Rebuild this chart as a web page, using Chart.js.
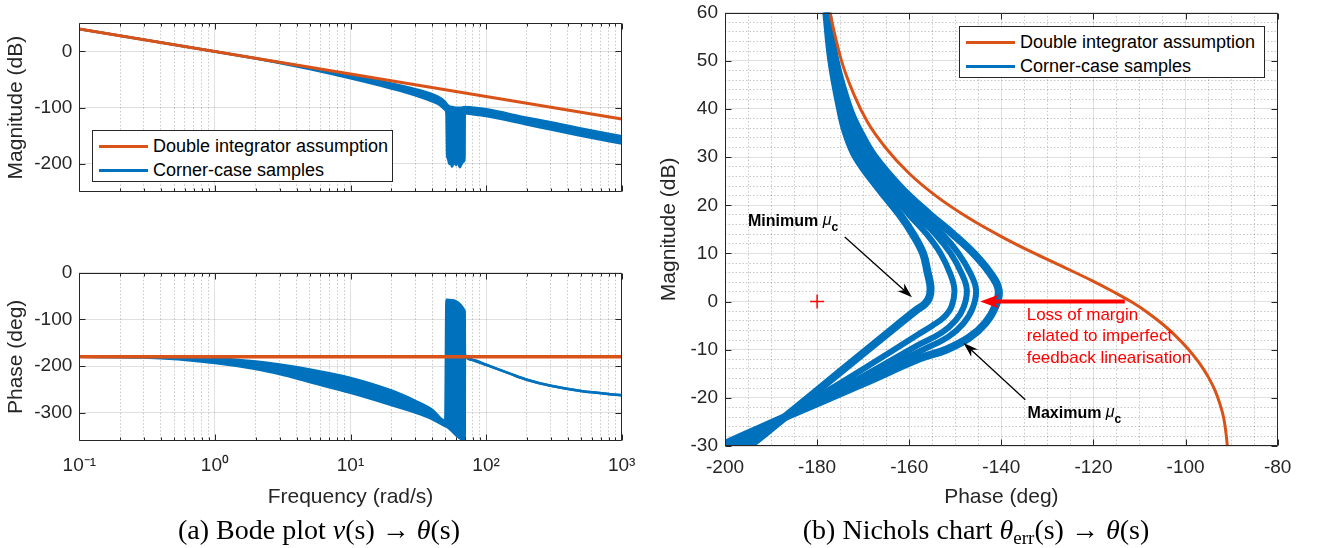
<!DOCTYPE html>
<html>
<head>
<meta charset="utf-8">
<script src="https://cdn.jsdelivr.net/npm/chart.js@4.4.0/dist/chart.umd.min.js"></script>
<style>
  body { margin: 0; background: #fff; width: 1321px; height: 548px; position: relative; overflow: hidden;
         font-family: "Liberation Sans", Arial, Helvetica, sans-serif; }
  canvas { position: absolute; left: 0; top: 0; }
  .legend { position: absolute; background: #fff; border: 1px solid #262626; box-sizing: border-box; font-size: 18px; color: #000; }
  .legend .row { position: absolute; left: 0; height: 24px; line-height: 24px; white-space: nowrap; }
  .legend .ln { position: absolute; height: 3px; top: 11px; }
  .legend .tx { position: absolute; }
  .caption { position: absolute; font-family: "Liberation Serif", "Times New Roman", serif; font-size: 28px; color: #000;
             transform: translate(-50%, -50%); white-space: nowrap; }
  .caption sub { font-size: 0.68em; vertical-align: -0.25em; line-height: 0; }
</style>
</head>
<body>
<canvas id="bodeMag" width="1321" height="548"></canvas>
<canvas id="bodePhase" width="1321" height="548"></canvas>
<canvas id="nichols" width="1321" height="548"></canvas>
<div id="legendBode" class="legend" style="left:92px;top:130px;width:301px;height:52px"></div>
<div id="legendNichols" class="legend" style="left:959px;top:26px;width:306px;height:52px"></div>
<div class="caption" style="left:319px;top:530px">(a) Bode plot <i>ν</i>(s) → <i>θ</i>(s)</div>
<div class="caption" style="left:976px;top:530px">(b) Nichols chart <i>θ</i><sub>err</sub>(s) → <i>θ</i>(s)</div>
<script>
// ---- series names ----
const seriesNames = ['Double integrator assumption', 'Corner-case samples'];

// ---- Bode: frequency ticks (rad/s) ----
const freqDecades = [0.1, 1, 10, 100, 1000];
const freqLabels = ['10⁻¹', '10⁰', '10¹', '10²', '10³'];
const magTicks = [-200, -100, 0];
const phaseTicks = [-300, -200, -100, 0];

// Bode magnitude (freq, dB)
const magDI = [[0.1, 40], [1, 0], [10, -40], [100, -80], [1000, -120]];
const magBandUpper = [[0.1, 40], [1, 0], [2, -12.3], [3, -19.4], [5, -28.8], [10, -41], [20, -57], [30, -67], [40, -76], [46, -83], [50, -90],
  [51, -93], [53, -97], [56, -99], [60, -100], [65, -100], [69.6, -99], [75, -99.5], [100, -103], [200, -118], [300, -126], [500, -137], [1000, -151]];
const magBandLower = [[0.1, 40], [1, 0], [2, -12.6], [3, -20.5], [5, -31.5], [10, -48], [20, -66], [30, -78], [40, -89], [46, -96], [50, -104],
  [51, -110], [51.6, -185], [52.5, -192], [53.5, -200], [55, -198], [56, -205], [58, -196], [60, -202], [62, -195], [64, -206], [66, -200],
  [68, -196], [69.3, -190], [69.6, -110], [75, -111], [100, -115], [200, -130], [300, -139], [500, -150], [1000, -164]];

// Bode phase (freq, deg)
const phaseDI = [[0.1, -180], [1000, -180]];
const phaseBandUpper = [[0.1, -180], [0.3, -180.5], [1, -183], [2, -190], [3, -196.5], [5, -207], [10, -225], [20, -252], [30, -274], [40, -293], [50, -317],
  [51, -58], [69.5, -82], [69.8, -177], [80, -187], [100, -197], [150, -216], [200, -229], [300, -242], [500, -253], [1000, -262]];
const phaseBandLower = [[0.1, -180], [0.3, -181.5], [1, -193], [2, -206], [3, -217], [5, -234], [10, -257], [20, -283], [30, -299], [40, -313], [50, -328],
  [51, -329], [69.5, -359], [69.8, -177], [80, -187], [100, -197], [150, -216], [200, -229], [300, -242], [500, -253], [1000, -262]];

// ---- Nichols (phase deg, magnitude dB) ----
const nicholsPhaseTicks = [-200, -180, -160, -140, -120, -100, -80];
const nicholsMagTicks = [-30, -20, -10, 0, 10, 20, 30, 40, 50, 60];
const nicholsDI = [[-177.8, 63], [-177.2, 60], [-174.7, 50], [-172, 43], [-169, 37.2], [-165, 31.8], [-160, 26.6], [-154, 21.8], [-147, 17.3],
  [-140, 13.5], [-133, 10.1], [-127, 7.4], [-120, 4.2], [-116, 2.2], [-111.5, -0.2], [-108.5, -2.1], [-105.5, -4.3], [-102.5, -6.8], [-99.5, -9.8],
  [-97, -12.8], [-95, -15.8], [-93.5, -18.7], [-92.5, -21.4], [-91.7, -24.3], [-91.2, -27.5], [-90.9, -30.5], [-90.8, -32]];
const nicholsMinMu = [[-178.3, 63], [-178.0, 60], [-176.9, 50], [-175.0, 40], [-173.7, 35], [-171.5, 30], [-166.6, 23.5], [-162.0, 18], [-159.2, 14],
  [-157.0, 10], [-156.0, 6], [-155.4, 3.2], [-155.6, 1.0], [-156.6, -0.5], [-158.5, -1.8], [-165, -6.8], [-175, -14.6], [-187, -24], [-195, -30.2], [-198, -32.5]];
const nicholsMu2 = [[-178.2, 63], [-177.9, 60], [-176.6, 50], [-174.5, 40], [-172.8, 35], [-170.3, 30], [-165, 23.5], [-160, 18], [-156.2, 14],
  [-153.2, 10], [-151.2, 6], [-150.2, 2.5], [-150.8, -1], [-152.5, -3.3], [-155, -5], [-158, -6.8], [-170, -14], [-187, -24], [-197.5, -30.5], [-200, -32.5]];
const nicholsMu3 = [[-178.1, 63], [-177.8, 60], [-176.4, 50], [-174.0, 40], [-172.2, 35], [-169.4, 30], [-164, 23.5], [-158.5, 18], [-154.3, 14],
  [-151, 10], [-148.7, 6], [-147.5, 2.5], [-148.2, -1.2], [-150, -4], [-153, -6.5], [-158, -9], [-170, -15.5], [-187, -24], [-198.5, -30.3], [-201, -32]];
const nicholsMu4 = [[-178.05, 63], [-177.75, 60], [-176.2, 50], [-173.6, 40], [-171.6, 35], [-168.6, 30], [-163, 23.5], [-157.3, 18], [-152.8, 14],
  [-149.3, 10], [-146.8, 6], [-145.5, 2.5], [-146.2, -1.3], [-148.2, -4.5], [-151.5, -7.3], [-157, -10], [-170, -16], [-187, -24], [-199.5, -30.2], [-202, -31.5]];
const nicholsMaxMu = [[-178, 63], [-177.7, 60], [-176.0, 50], [-173.0, 40], [-170.6, 35], [-167.5, 30], [-161.7, 23.5], [-155.5, 18], [-150.5, 14],
  [-146, 10], [-142.5, 6], [-140.6, 2.5], [-141.3, -1], [-143.5, -4.5], [-147, -7.5], [-152, -10], [-157.7, -11.8], [-170, -17], [-187, -24], [-201, -30], [-203, -30.8]];
const criticalPoint = [[-180, 0]];

// annotations (data coordinates)
const minLabelAt = [-195, 16.9];
const minArrow = [[-174, 13.4], [-159.4, 0.9]];
const maxLabelAt = [-134.3, -22.9];
const maxArrow = [[-134.8, -20.4], [-148.2, -8.6]];
const lossArrow = [[-113.2, 0], [-144.6, 0]];
const lossText = ['Loss of margin', 'related to imperfect', 'feedback linearisation'];
const lossTextAt = [-134.5, -2.85];

// ---- styling ----
const ORANGE = '#D95319';
const BLUE = '#0072BD';
const TXT = '#262626';
const FONT = '"Liberation Sans", Arial, Helvetica, sans-serif';
const GRID_MAJOR = 'rgba(0,0,0,0.12)';
const GRID_MINOR = 'rgba(0,0,0,0.22)';

const toXY = arr => arr.map(([x, y]) => ({ x, y }));

function logTicks() {
  const out = [];
  freqDecades.forEach((d, i) => {
    out.push({ value: d, major: true });
    if (i < freqDecades.length - 1) {
      for (let k = 2; k <= 9; k++) out.push({ value: +(d * k).toPrecision(6), major: false });
    }
  });
  return out;
}

function linTicks(min, max, step, majors) {
  const out = [];
  for (let v = min; v <= max + 1e-9; v += step) {
    const val = Math.round(v * 1000) / 1000;
    out.push({ value: val, major: majors.includes(val) });
  }
  return out;
}

const gridOpts = {
  drawTicks: false,
  lineWidth: 1,
  color: c => (c.tick && c.tick.major ? GRID_MAJOR : GRID_MINOR)
};
const borderOpts = {
  display: false,
  dash: c => (c.tick && c.tick.major ? [] : [1.5, 2])
};

// axes box + inward tick marks, like the original plots
const framePlugin = {
  id: 'frame',
  afterDatasetsDraw(chart, args, opts) {
    const { ctx, chartArea: a, scales } = chart;
    const L = Math.round(a.left) + 0.5, R = Math.round(a.right) - 0.5;
    const T = Math.round(a.top) + 0.5, B = Math.round(a.bottom) - 0.5;
    ctx.save();
    ctx.strokeStyle = TXT;
    ctx.lineWidth = 1;
    ctx.beginPath();
    ctx.rect(L, T, R - L, B - T);
    scales.x.ticks.forEach(t => {
      const len = t.major ? 6 : (opts.minor ? 3 : 0);
      if (!len) return;
      const px = Math.round(scales.x.getPixelForValue(t.value)) + 0.5;
      ctx.moveTo(px, B); ctx.lineTo(px, B - len);
      ctx.moveTo(px, T); ctx.lineTo(px, T + len);
    });
    scales.y.ticks.forEach(t => {
      if (!t.major) return;
      const py = Math.round(scales.y.getPixelForValue(t.value)) + 0.5;
      ctx.moveTo(L, py); ctx.lineTo(L + 6, py);
      ctx.moveTo(R, py); ctx.lineTo(R - 6, py);
    });
    ctx.stroke();
    ctx.restore();
  }
};

function drawArrow(ctx, [x0, y0], [x1, y1], color, w, head, half) {
  const ang = Math.atan2(y1 - y0, x1 - x0);
  const c = Math.cos(ang), s = Math.sin(ang);
  ctx.strokeStyle = color;
  ctx.fillStyle = color;
  ctx.lineWidth = w;
  ctx.beginPath();
  ctx.moveTo(x0, y0);
  ctx.lineTo(x1 - c * head * 0.7, y1 - s * head * 0.7);
  ctx.stroke();
  ctx.beginPath();
  ctx.moveTo(x1, y1);
  ctx.lineTo(x1 - c * head - s * half, y1 - s * head + c * half);
  ctx.lineTo(x1 - c * head * 0.7, y1 - s * head * 0.7);
  ctx.lineTo(x1 - c * head + s * half, y1 - s * head - c * half);
  ctx.closePath();
  ctx.fill();
}

function drawMuLabel(ctx, word, [px, py]) {
  const base = py + 6;
  ctx.fillStyle = '#000';
  ctx.textBaseline = 'alphabetic';
  ctx.textAlign = 'left';
  ctx.font = 'bold 16px ' + FONT;
  ctx.fillText(word + ' ', px, base);
  let w = ctx.measureText(word + ' ').width;
  ctx.font = 'italic 16px ' + FONT;
  ctx.fillText('μ', px + w, base - 1);
  w += ctx.measureText('μ').width;
  ctx.font = 'bold 12px ' + FONT;
  ctx.fillText('c', px + w, base + 5);
}

const notesPlugin = {
  id: 'notes',
  afterDatasetsDraw(chart) {
    const { ctx, scales: { x, y } } = chart;
    const P = p => [x.getPixelForValue(p[0]), y.getPixelForValue(p[1])];
    ctx.save();
    drawArrow(ctx, P(minArrow[0]), P(minArrow[1]), '#000', 1.3, 15, 5);
    drawArrow(ctx, P(maxArrow[0]), P(maxArrow[1]), '#000', 1.3, 15, 5);
    drawArrow(ctx, P(lossArrow[0]), P(lossArrow[1]), '#ff0000', 4, 19, 7);
    drawMuLabel(ctx, 'Minimum', P(minLabelAt));
    drawMuLabel(ctx, 'Maximum', P(maxLabelAt));
    const [tx, ty] = P(lossTextAt);
    ctx.fillStyle = '#ff0000';
    ctx.font = '17px ' + FONT;
    ctx.textBaseline = 'middle';
    lossText.forEach((s, i) => ctx.fillText(s, tx, ty + i * 21.5));
    ctx.restore();
  }
};

function yScale(min, max, ticksFn, title, width, padding) {
  return {
    type: 'linear', min, max,
    afterBuildTicks: s => { s.ticks = ticksFn(); },
    afterFit: s => { s.width = width; s.paddingTop = 0; s.paddingBottom = 0; },
    ticks: {
      autoSkip: false, padding, color: TXT, font: { family: FONT, size: 19 },
      callback: (v, i, t) => (t[i].major ? String(v) : '')
    },
    grid: gridOpts, border: borderOpts,
    title: { display: true, text: title, color: TXT, font: { family: FONT, size: 21 }, padding: 0 }
  };
}

function freqScale(showLabels, height) {
  return {
    type: 'logarithmic', min: 0.1, max: 1000,
    afterBuildTicks: s => { s.ticks = logTicks(); },
    afterFit: s => { s.height = height; s.paddingLeft = 0; s.paddingRight = 0; },
    ticks: {
      display: showLabels, autoSkip: false, maxRotation: 0, padding: 13, color: TXT,
      font: { family: FONT, size: 19 },
      callback: v => { const i = freqDecades.indexOf(v); return i >= 0 ? freqLabels[i] : ''; }
    },
    grid: gridOpts, border: borderOpts,
    title: { display: showLabels, text: 'Frequency (rad/s)', color: TXT, font: { family: FONT, size: 21 }, padding: 0 }
  };
}

const lineBase = { pointRadius: 0, borderJoinStyle: 'round', fill: false };

Chart.defaults.animation = false;

new Chart(document.getElementById('bodeMag'), {
  type: 'line',
  data: {
    datasets: [
      { ...lineBase, label: seriesNames[0], data: toXY(magDI), borderColor: ORANGE, borderWidth: 3 },
      { ...lineBase, label: seriesNames[1], data: toXY(magBandUpper), borderColor: BLUE, backgroundColor: BLUE, borderWidth: 2.5,
        fill: '+1', cubicInterpolationMode: 'monotone' },
      { ...lineBase, label: seriesNames[1], data: toXY(magBandLower), borderColor: BLUE, borderWidth: 2.5, cubicInterpolationMode: 'monotone' }
    ]
  },
  options: {
    responsive: false, devicePixelRatio: 1,
    layout: { padding: { left: 3.7, top: 23.3, right: 699.3, bottom: 356 } },
    plugins: { legend: { display: false }, tooltip: { enabled: false }, frame: { minor: true } },
    scales: {
      x: freqScale(false, 0),
      y: yScale(-250, 50, () => magTicks.map(v => ({ value: v, major: true })), 'Magnitude (dB)', 75.6, 7)
    }
  },
  plugins: [framePlugin]
});

new Chart(document.getElementById('bodePhase'), {
  type: 'line',
  data: {
    datasets: [
      { ...lineBase, label: seriesNames[0], data: toXY(phaseDI), borderColor: ORANGE, borderWidth: 3.5 },
      { ...lineBase, label: seriesNames[1], data: toXY(phaseBandUpper), borderColor: BLUE, backgroundColor: BLUE, borderWidth: 2.5,
        fill: '+1', cubicInterpolationMode: 'monotone' },
      { ...lineBase, label: seriesNames[1], data: toXY(phaseBandLower), borderColor: BLUE, borderWidth: 2.5, cubicInterpolationMode: 'monotone' }
    ]
  },
  options: {
    responsive: false, devicePixelRatio: 1,
    layout: { padding: { left: 3.7, top: 272.7, right: 699.3, bottom: 37.8 } },
    plugins: { legend: { display: false }, tooltip: { enabled: false }, frame: { minor: true } },
    scales: {
      x: freqScale(true, 69.2),
      y: yScale(-360, 0, () => phaseTicks.map(v => ({ value: v, major: true })), 'Phase (deg)', 75.6, 7)
    }
  },
  plugins: [framePlugin]
});

const curveBase = { ...lineBase, borderColor: BLUE, borderWidth: 7, tension: 0.4, capBezierPoints: false, label: seriesNames[1] };

new Chart(document.getElementById('nichols'), {
  type: 'line',
  data: {
    datasets: [
      { ...lineBase, label: seriesNames[0], data: toXY(nicholsDI), borderColor: ORANGE, borderWidth: 3, cubicInterpolationMode: 'monotone' },
      { ...curveBase, data: toXY(nicholsMinMu), borderWidth: 8 },
      { ...curveBase, data: toXY(nicholsMu2), borderWidth: 6 },
      { ...curveBase, data: toXY(nicholsMu3), borderWidth: 6 },
      { ...curveBase, data: toXY(nicholsMu4), borderWidth: 6 },
      { ...curveBase, data: toXY(nicholsMaxMu), borderWidth: 8 },
      { label: 'critical point', data: toXY(criticalPoint), showLine: false, pointStyle: 'cross', pointRadius: 7,
        pointBorderColor: '#ff0000', pointBorderWidth: 1.5, borderColor: '#ff0000' }
    ]
  },
  options: {
    responsive: false, devicePixelRatio: 1,
    layout: { padding: { left: 656.7, top: 12.7, right: 43.3, bottom: 38.1 } },
    plugins: { legend: { display: false }, tooltip: { enabled: false }, frame: { minor: false } },
    scales: {
      x: {
        type: 'linear', min: -200, max: -80,
        afterBuildTicks: s => { s.ticks = linTicks(-200, -80, 5, nicholsPhaseTicks); },
        afterFit: s => { s.height = 63.9; s.paddingLeft = 0; s.paddingRight = 0; },
        ticks: { autoSkip: false, maxRotation: 0, padding: 10.6, color: TXT, font: { family: FONT, size: 19 },
                 callback: (v, i, t) => (t[i].major ? String(v) : '') },
        grid: gridOpts, border: borderOpts,
        title: { display: true, text: 'Phase (deg)', color: TXT, font: { family: FONT, size: 21 }, padding: 0 }
      },
      y: yScale(-30, 60, () => linTicks(-30, 60, 2, nicholsMagTicks), 'Magnitude (dB)', 68.3, 7)
    }
  },
  plugins: [framePlugin, notesPlugin]
});

// legends (MATLAB style boxes)
function buildLegend(id) {
  const el = document.getElementById(id);
  [[seriesNames[0], ORANGE], [seriesNames[1], BLUE]].forEach(([name, col], i) => {
    const row = document.createElement('div');
    row.className = 'row';
    row.style.top = (3 + i * 23.5) + 'px';
    row.innerHTML = '<span class="ln" style="left:6px;width:49px;background:' + col + '"></span>' +
                    '<span class="tx" style="left:60px">' + name + '</span>';
    el.appendChild(row);
  });
}
buildLegend('legendBode');
buildLegend('legendNichols');
</script>
</body>
</html>
